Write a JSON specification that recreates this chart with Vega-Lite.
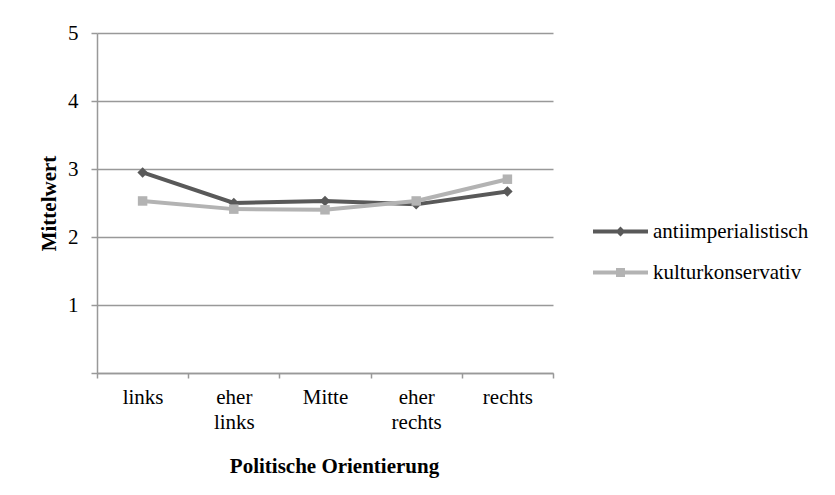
{
  "$schema": "https://vega.github.io/schema/vega-lite/v6.json",
  "width": 456,
  "height": 340,
  "autosize": {"type": "none"},
  "padding": {"left": 97, "top": 33, "right": 282, "bottom": 122},
  "background": "white",
  "config": {
    "font": "Liberation Serif",
    "view": {"stroke": null},
    "axis": {"labelFont": "Liberation Serif", "titleFont": "Liberation Serif", "labelColor": "#000000", "titleColor": "#000000", "labelFontSize": 21, "titleFontSize": 21, "titleFontWeight": "bold", "domainColor": "#999999", "tickColor": "#999999", "gridColor": "#999999", "domainWidth": 1.5, "tickWidth": 1.5, "gridWidth": 1.5},
    "legend": {
      "title": null,
      "orient": "none",
      "legendX": 513,
      "legendY": 188,
      "padding": 0,
      "symbolSize": 400,
      "symbolOpacity": 1,
      "symbolStrokeWidth": 0,
      "labelFont": "Liberation Serif",
      "labelFontSize": 21,
      "labelColor": "#000000",
      "labelOffset": 22,
      "rowPadding": 19
    }
  },
  "data": {
    "values": [
      {"orientierung": "links", "reihe": "antiimperialistisch", "mittelwert": 2.95},
      {"orientierung": "eher links", "reihe": "antiimperialistisch", "mittelwert": 2.5},
      {"orientierung": "Mitte", "reihe": "antiimperialistisch", "mittelwert": 2.53},
      {"orientierung": "eher rechts", "reihe": "antiimperialistisch", "mittelwert": 2.48},
      {"orientierung": "rechts", "reihe": "antiimperialistisch", "mittelwert": 2.67},
      {"orientierung": "links", "reihe": "kulturkonservativ", "mittelwert": 2.53},
      {"orientierung": "eher links", "reihe": "kulturkonservativ", "mittelwert": 2.41},
      {"orientierung": "Mitte", "reihe": "kulturkonservativ", "mittelwert": 2.4},
      {"orientierung": "eher rechts", "reihe": "kulturkonservativ", "mittelwert": 2.53},
      {"orientierung": "rechts", "reihe": "kulturkonservativ", "mittelwert": 2.85}
    ]
  },
  "encoding": {
    "x": {
      "field": "orientierung",
      "type": "nominal",
      "sort": ["links", "eher links", "Mitte", "eher rechts", "rechts"],
      "scale": {"type": "band", "paddingInner": 0, "paddingOuter": 0},
      "axis": {
        "title": "Politische Orientierung",
        "labelAngle": 0,
        "labelExpr": "split(datum.label, ' ')",
        "labelLineHeight": 25,
        "labelPadding": 8,
        "labelBaseline": "top",
        "tickBand": "extent",
        "tickSize": 5,
        "grid": false,
        "titlePadding": 23,
        "titleX": 237
      }
    },
    "y": {
      "field": "mittelwert",
      "type": "quantitative",
      "scale": {"domain": [0, 5], "nice": false, "zero": true},
      "axis": {
        "title": "Mittelwert",
        "values": [0, 1, 2, 3, 4, 5],
        "labelExpr": "datum.value == 0 ? '' : datum.label",
        "tickSize": 6,
        "labelPadding": 13,
        "grid": true,
        "titlePadding": 8
      }
    },
    "color": {
      "field": "reihe",
      "type": "nominal",
      "title": null,
      "scale": {"domain": ["antiimperialistisch", "kulturkonservativ"], "range": ["#595959", "#b3b3b3"]}
    }
  },
  "layer": [
    {"mark": {"type": "line", "strokeWidth": 4}},
    {
      "transform": [{"filter": "datum.reihe === 'antiimperialistisch'"}],
      "mark": {"type": "point", "filled": true, "opacity": 1, "size": 110, "shape": "diamond"}
    },
    {
      "transform": [{"filter": "datum.reihe === 'kulturkonservativ'"}],
      "mark": {"type": "point", "filled": true, "opacity": 1, "size": 90, "shape": "square"}
    },
    {
      "mark": {"type": "point", "filled": true, "opacity": 0},
      "encoding": {
        "shape": {
          "field": "reihe",
          "type": "nominal",
          "title": null,
          "scale": {
            "domain": ["antiimperialistisch", "kulturkonservativ"],
            "range": [
              "M-2.75,-0.2L-0.3,-0.2L0,-0.5L0.3,-0.2L2.75,-0.2L2.75,0.2L0.3,0.2L0,0.5L-0.3,0.2L-2.75,0.2Z",
              "M-2.75,-0.2L-0.45,-0.2L-0.45,-0.45L0.45,-0.45L0.45,-0.2L2.75,-0.2L2.75,0.2L0.45,0.2L0.45,0.45L-0.45,0.45L-0.45,0.2L-2.75,0.2Z"
            ]
          }
        }
      }
    }
  ]
}
